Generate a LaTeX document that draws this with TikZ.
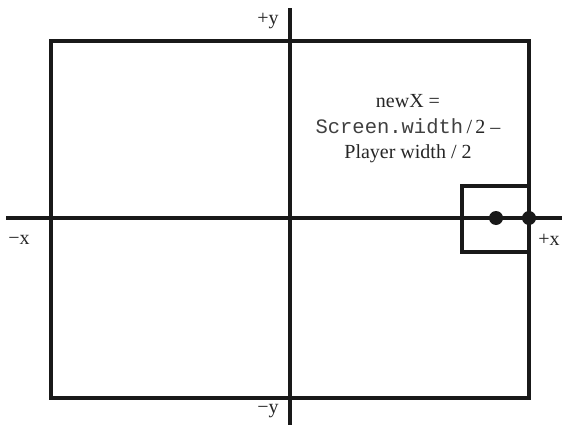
\documentclass[tikz,border=0pt]{standalone}
\usepackage{fontspec}
\setmainfont{Liberation Serif}
\setmonofont{Liberation Mono}
\begin{document}
\begin{tikzpicture}[x=1pt,y=-1pt,
  thick line/.style={line width=3.6pt, draw=black!90},
  dotmark/.style={circle, fill=black!90, inner sep=0pt, minimum size=14pt},
  lbl/.style={font=\fontsize{20}{25.5}\selectfont, inner sep=0pt, text=black!85}]
\useasboundingbox (0,0) rectangle (562,431);
% frame
\coordinate (tl) at (51,41);
\coordinate (br) at (529,398);
\draw[thick line] (tl) rectangle (br);
% axes
\coordinate (xl) at (6,218);
\coordinate (xr) at (562,218);
\coordinate (yt) at (290,8);
\coordinate (yb) at (290,425);
\draw[thick line] (xl) -- (xr);
\draw[thick line] (yt) -- (yb);
% player box
\coordinate (pbl) at (462,186);
\coordinate (pbr) at (529,252);
\draw[thick line] (pbl) rectangle (pbr);
\node[dotmark] (d1) at (496,218) {};
\node[dotmark] (d2) at (529,218) {};
% labels
\node[lbl] (py) at (268,21) {+y};
\node[lbl] (my) at (268,411) {−y};
\node[lbl] (mx) at (19,240) {−x};
\node[lbl] (px) at (549,240) {+x};
\node[lbl, align=center] (eq) at (408,129) {newX =\\
  {\ttfamily\fontsize{20.5}{25}\selectfont\color{black!75}Screen.width}\,/\,2 –\\
  Player width / 2};
\end{tikzpicture}
\end{document}
